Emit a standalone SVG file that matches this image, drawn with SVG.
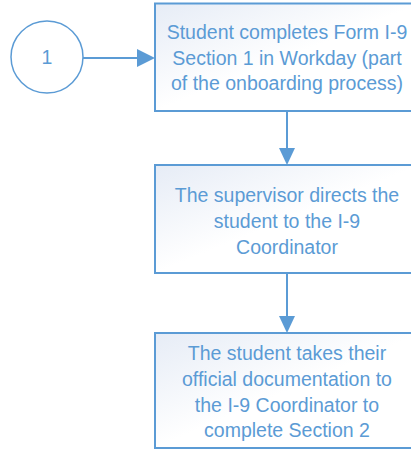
<svg xmlns="http://www.w3.org/2000/svg" width="411" height="449" viewBox="0 0 411 449">
<style>
.box{fill:url(#g);stroke:#5B9BD5;stroke-width:2}
.t{font-family:"Liberation Sans",Arial,sans-serif;font-size:19.5px;fill:#5B9BD5;text-anchor:middle}
.c{stroke:#5B9BD5;stroke-width:2;fill:none}
</style>
<defs>
<linearGradient id="g" x1="0" y1="0" x2="1" y2="1">
<stop offset="0" stop-color="#E6ECF6"/>
<stop offset="0.5" stop-color="#FFFFFF"/>
<stop offset="1" stop-color="#FFFFFF"/>
</linearGradient>
</defs>
<g id="start">
<circle cx="47" cy="57" r="36" fill="#FFFFFF" stroke="#5B9BD5" stroke-width="1.5"/>
<text class="t" x="47" y="64">1</text>
</g>
<g id="step1">
<rect class="box" x="155" y="3.5" width="266" height="107.5"/>
<text class="t" x="287" y="39">Student completes Form I-9</text>
<text class="t" x="287" y="64.5">Section 1 in Workday (part</text>
<text class="t" x="287" y="90">of the onboarding process)</text>
</g>
<g id="step2">
<rect class="box" x="155" y="165" width="266" height="108"/>
<text class="t" x="287" y="202">The supervisor directs the</text>
<text class="t" x="287" y="227.5">student to the I-9</text>
<text class="t" x="287" y="253.5">Coordinator</text>
</g>
<g id="step3">
<rect class="box" x="155" y="333" width="266" height="115"/>
<text class="t" x="287" y="360">The student takes their</text>
<text class="t" x="287" y="386">official documentation to</text>
<text class="t" x="287" y="411.5">the I-9 Coordinator to</text>
<text class="t" x="287" y="437">complete Section 2</text>
</g>
<g id="connectors">
<path d="M83,58 L137,58" class="c"/>
<path d="M137,49 L155,58 L137,67 z" fill="#5B9BD5"/>
<path d="M287,111 L287,148" class="c"/>
<path d="M279,148 L287,165 L295,148 z" fill="#5B9BD5"/>
<path d="M287,273 L287,316" class="c"/>
<path d="M279,316 L287,333 L295,316 z" fill="#5B9BD5"/>
</g>
</svg>
